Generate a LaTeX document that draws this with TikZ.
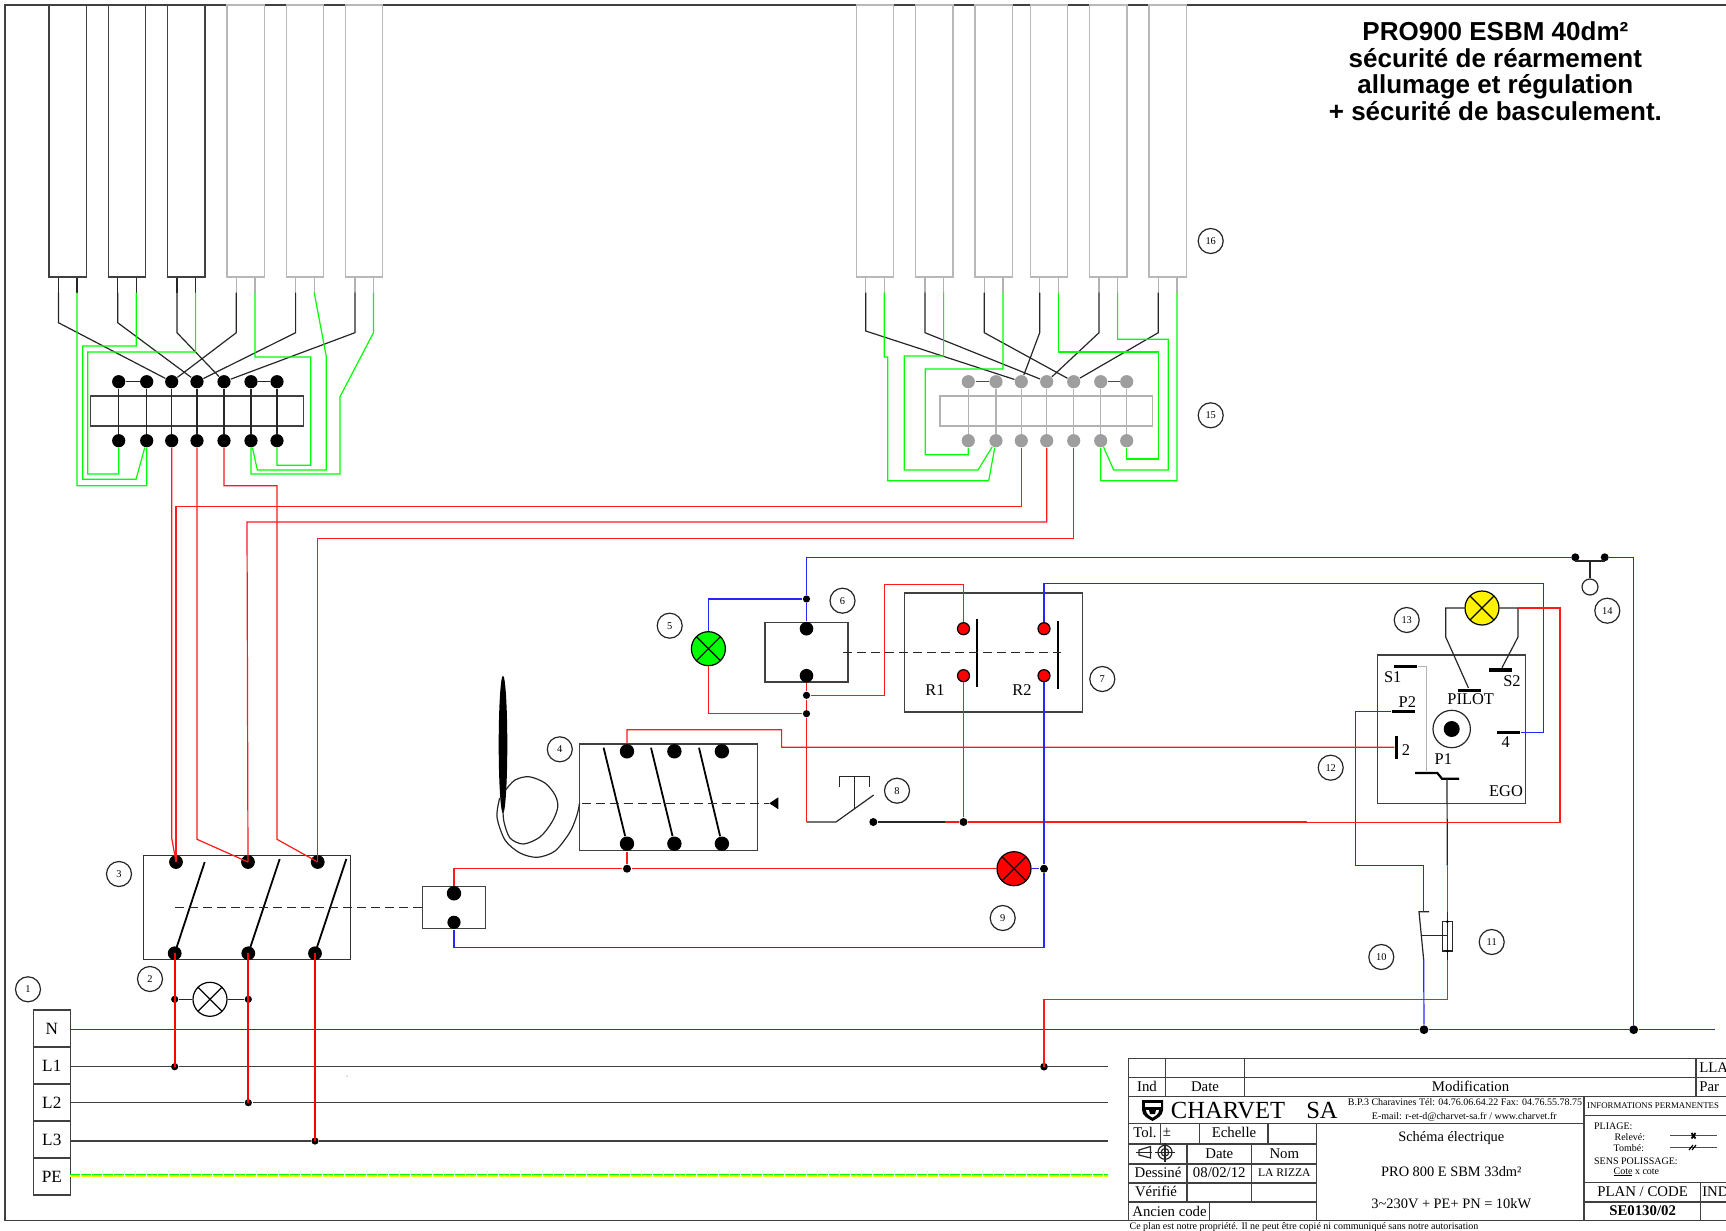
\documentclass[tikz,border=0pt]{standalone}
\usepackage{fontspec}
\setmainfont{Liberation Serif}
\newfontfamily\titlefont{Liberation Sans}
\usetikzlibrary{shapes,arrows,positioning,calc}

\begin{document}
\begin{tikzpicture}[x=0.5pt, y=-0.5pt, line width=0.6pt, node distance=29.65pt,
        wirek/.style={draw=black!85},
        wiregrey/.style={draw=black!30},
        wirered/.style={draw=red!90!white},
        wirethick/.style={draw=red, line width=1.1pt},
        wireblue/.style={draw=blue!85!white},
        wiregreen/.style={draw=green},
        boxline/.style={draw=black!75},
        heaterk/.style={rectangle, draw=black!75, minimum width=18.65pt, minimum height=136pt, inner sep=0pt},
        heatergrey/.style={heaterk, draw=black!28},
        term/.style={circle, fill=black, minimum size=6.6pt, inner sep=0pt},
        termgrey/.style={circle, fill=black!38, minimum size=6.6pt, inner sep=0pt},
        termred/.style={circle, draw=black, fill=red, minimum size=6pt, inner sep=0pt},
        joint/.style={circle, fill=black, minimum size=3.6pt, inner sep=0pt},
        lamp/.style={circle, draw=black, minimum size=17pt, inner sep=0pt, path picture={
            \draw[black] (path picture bounding box.north west) -- (path picture bounding box.south east)
                (path picture bounding box.north east) -- (path picture bounding box.south west);}},
        numtag/.style={circle, draw=black!85, minimum size=12.5pt, inner sep=0pt, font=\fontsize{5.2}{6}\selectfont},
        contactbar/.style={rectangle, fill=black, minimum width=11.5pt, minimum height=1.7pt, inner sep=0pt},
        striptext/.style={rectangle, draw=black!75, minimum width=18.5pt, minimum height=18.5pt, inner sep=0pt, font=\fontsize{8.6}{10}\selectfont},
        parttext/.style={inner sep=0pt, font=\fontsize{8.2}{9}\selectfont},
        celltext/.style={inner sep=0pt, font=\fontsize{7.4}{9}\selectfont},
        smalltext/.style={inner sep=0pt, font=\fontsize{5}{6}\selectfont},
        dashlink/.style={draw=black!85, dash pattern=on 4.5pt off 2.5pt}]
        \useasboundingbox (0,0) rectangle (1726,1231);
        \draw[boxline] (1726,5) -- (5,5) -- (5,1220.7) -- (1726,1220.7);

        \node[heaterk] (HeatA) at (67.7,141) {};
        \node[heaterk] (HeatB) [right of=HeatA] {};
        \node[heaterk] (HeatC) [right of=HeatB] {};
        \node[heatergrey] (HeatD) [right of=HeatC] {};
        \node[heatergrey] (HeatE) [right of=HeatD] {};
        \node[heatergrey] (HeatF) [right of=HeatE] {};
        \node[heatergrey] (HeatG) at (875,141) {};
        \node[heatergrey] (HeatH) [right of=HeatG] {};
        \node[heatergrey] (HeatI) [right of=HeatH] {};
        \node[heatergrey] (HeatJ) at (1049,141) {};
        \node[heatergrey] (HeatK) [right of=HeatJ] {};
        \node[heatergrey] (HeatL) [right of=HeatK] {};

        \draw[wirek] ([xshift=-4.65pt]HeatA.south) -- ++(0,15) coordinate (LegA1);
        \draw[wirek] ([xshift=4.65pt]HeatA.south) -- ++(0,15) coordinate (LegA2);
        \draw[wirek] ([xshift=-4.65pt]HeatB.south) -- ++(0,15) coordinate (LegB1);
        \draw[wirek] ([xshift=4.65pt]HeatB.south) -- ++(0,15) coordinate (LegB2);
        \draw[wirek] ([xshift=-4.65pt]HeatC.south) -- ++(0,15) coordinate (LegC1);
        \draw[wirek] ([xshift=4.65pt]HeatC.south) -- ++(0,15) coordinate (LegC2);
        \draw[wiregrey] ([xshift=-4.65pt]HeatD.south) -- ++(0,15) coordinate (LegD1);
        \draw[wiregrey] ([xshift=4.65pt]HeatD.south) -- ++(0,15) coordinate (LegD2);
        \draw[wiregrey] ([xshift=-4.65pt]HeatE.south) -- ++(0,15) coordinate (LegE1);
        \draw[wiregrey] ([xshift=4.65pt]HeatE.south) -- ++(0,15) coordinate (LegE2);
        \draw[wiregrey] ([xshift=-4.65pt]HeatF.south) -- ++(0,15) coordinate (LegF1);
        \draw[wiregrey] ([xshift=4.65pt]HeatF.south) -- ++(0,15) coordinate (LegF2);
        \draw[wiregrey] ([xshift=-4.65pt]HeatG.south) -- ++(0,15) coordinate (LegG1);
        \draw[wiregrey] ([xshift=4.65pt]HeatG.south) -- ++(0,15) coordinate (LegG2);
        \draw[wiregrey] ([xshift=-4.65pt]HeatH.south) -- ++(0,15) coordinate (LegH1);
        \draw[wiregrey] ([xshift=4.65pt]HeatH.south) -- ++(0,15) coordinate (LegH2);
        \draw[wiregrey] ([xshift=-4.65pt]HeatI.south) -- ++(0,15) coordinate (LegI1);
        \draw[wiregrey] ([xshift=4.65pt]HeatI.south) -- ++(0,15) coordinate (LegI2);
        \draw[wiregrey] ([xshift=-4.65pt]HeatJ.south) -- ++(0,15) coordinate (LegJ1);
        \draw[wiregrey] ([xshift=4.65pt]HeatJ.south) -- ++(0,15) coordinate (LegJ2);
        \draw[wiregrey] ([xshift=-4.65pt]HeatK.south) -- ++(0,15) coordinate (LegK1);
        \draw[wiregrey] ([xshift=4.65pt]HeatK.south) -- ++(0,15) coordinate (LegK2);
        \draw[wiregrey] ([xshift=-4.65pt]HeatL.south) -- ++(0,15) coordinate (LegL1);
        \draw[wiregrey] ([xshift=4.65pt]HeatL.south) -- ++(0,15) coordinate (LegL2);

        \node[rectangle, draw=black!75, minimum width=106.3pt, minimum height=15pt, inner sep=0pt] (BarLeft) at (197,411) {};
        \node[term] (TopA) at (118.7,381.7) {};
        \node[term] (TopB) at (146.7,381.7) {};
        \node[term] (TopC) at (171.7,381.7) {};
        \node[term] (TopD) at (197,381.7) {};
        \node[term] (TopE) at (224,381.7) {};
        \node[term] (TopF) at (251,381.7) {};
        \node[term] (TopG) at (277,381.7) {};
        \node[term] (LowA) at (118.7,440.7) {};
        \node[term] (LowB) at (146.7,440.7) {};
        \node[term] (LowC) at (171.7,440.7) {};
        \node[term] (LowD) at (197,440.7) {};
        \node[term] (LowE) at (224,440.7) {};
        \node[term] (LowF) at (251,440.7) {};
        \node[term] (LowG) at (277,440.7) {};
        \draw[wirek] (TopA) -- (TopB);
        \draw[wirek] (TopF) -- (TopG);
        \draw[wirek] (TopA) -- (LowA);
        \draw[wirek] (TopB) -- (LowB);
        \draw[wirek] (TopC) -- (LowC);
        \draw[wirek] (TopD) -- (LowD);
        \draw[wirek] (TopE) -- (LowE);
        \draw[wirek] (TopF) -- (LowF);
        \draw[wirek] (TopG) -- (LowG);

        \draw[wirek] (LegA1) -- (58.4,322.7) -- (TopC);
        \draw[wirek] (LegB1) -- (117.7,322.7) -- (TopD);
        \draw[wirek] (LegC1) -- (177,332.7) -- (TopE);
        \draw[wirek] (LegD1) -- (236.3,332.7) -- (TopC);
        \draw[wirek] (LegE1) -- (295.6,332.7) -- (TopD);
        \draw[wirek] (LegF1) -- (354.9,332.7) -- (TopE);
        \draw[wiregreen] (LegA2) -- (77,485.7) -- (146.7,485.7) -- (LowB);
        \draw[wiregreen] (LegB2) -- (136.3,346) -- (82.7,346) -- (82.7,479.3) -- (136,479.3) -- (LowB);
        \draw[wiregreen] (LegC2) -- (195.6,352) -- (87.7,352) -- (87.7,474) -- (118.7,474) -- (LowA);
        \draw[wiregreen] (LegD2) -- (254.9,357) -- (310.7,357) -- (310.7,465.3) -- (277,465.3) -- (LowG);
        \draw[wiregreen] (LegE2) -- (326.3,356.7) -- (326.3,470) -- (257.3,470) -- (LowF);
        \draw[wiregreen] (LegF2) -- (373.5,332.7) -- (340,396.7) -- (340,474) -- (251,474) -- (LowF);

        \node[rectangle, draw=black!30, minimum width=106.3pt, minimum height=15pt, inner sep=0pt] (BarRight) at (1046.3,411) {};
        \node[termgrey] (TopH) at (968.3,381.7) {};
        \node[termgrey] (TopI) at (996,381.7) {};
        \node[termgrey] (TopJ) at (1021.3,381.7) {};
        \node[termgrey] (TopK) at (1046.7,381.7) {};
        \node[termgrey] (TopL) at (1073.7,381.7) {};
        \node[termgrey] (TopM) at (1100.7,381.7) {};
        \node[termgrey] (TopN) at (1126.7,381.7) {};
        \node[termgrey] (LowH) at (968.3,440.7) {};
        \node[termgrey] (LowI) at (996,440.7) {};
        \node[termgrey] (LowJ) at (1021.3,440.7) {};
        \node[termgrey] (LowK) at (1046.7,440.7) {};
        \node[termgrey] (LowL) at (1073.7,440.7) {};
        \node[termgrey] (LowM) at (1100.7,440.7) {};
        \node[termgrey] (LowN) at (1126.7,440.7) {};
        \draw[draw=black!70] (TopH) -- (TopI);
        \draw[draw=black!70] (TopM) -- (TopN);
        \draw[wiregrey] (TopH) -- (LowH);
        \draw[wiregrey] (TopI) -- (LowI);
        \draw[wiregrey] (TopJ) -- (LowJ);
        \draw[wiregrey] (TopK) -- (LowK);
        \draw[wiregrey] (TopL) -- (LowL);
        \draw[wiregrey] (TopM) -- (LowM);
        \draw[wiregrey] (TopN) -- (LowN);

        \draw[wirek] (LegG1) -- (865.7,331) -- (TopJ);
        \draw[wirek] (LegH1) -- (925,332.7) -- (TopK);
        \draw[wirek] (LegI1) -- (984.3,332.7) -- (TopL);
        \draw[wirek] (LegJ1) -- (1039.7,332.7) -- (TopJ);
        \draw[wirek] (LegK1) -- (1099,332.7) -- (TopK);
        \draw[wirek] (LegL1) -- (1158.3,332.7) -- (TopL);
        \draw[wiregreen] (LegG2) -- (884.3,357) -- (887.7,357) -- (887.7,480.7) -- (988.7,480.7) -- (LowI);
        \draw[wiregreen] (LegH2) -- (943.6,356) -- (904.3,356) -- (904.3,470) -- (978,470) -- (LowI);
        \draw[wiregreen] (LegI2) -- (1002.9,369) -- (925.3,369) -- (925.3,454.7) -- (968.3,454.7) -- (LowH);
        \draw[wiregreen] (LegJ2) -- (1058.3,352) -- (1158.7,352) -- (1158.7,459) -- (1126.7,459) -- (LowN);
        \draw[wiregreen] (LegK2) -- (1117.6,339.3) -- (1168.3,339.3) -- (1168.3,470) -- (1113.7,470) -- (LowM);
        \draw[wiregreen] (LegL2) -- (1176.9,480.7) -- (1100.7,480.7) -- (LowM);

        \node[rectangle, draw=black!80, minimum width=103.5pt, minimum height=52pt, inner sep=0pt] (Breaker) at (246.8,907.3) {};
        \node[term, minimum size=6.9pt] (BreakA) at (176,862) {};
        \node[term, minimum size=6.9pt] (BreakB) at (248,862) {};
        \node[term, minimum size=6.9pt] (BreakC) at (317.7,862) {};
        \node[term, minimum size=6.9pt] (BreakD) at (174.7,953.3) {};
        \node[term, minimum size=6.9pt] (BreakE) at (248.3,953.3) {};
        \node[term, minimum size=6.9pt] (BreakF) at (315,953.3) {};
        \draw[line width=0.9pt] (BreakD.center) -- (204.7,862);
        \draw[line width=0.9pt] (BreakE.center) -- (279.7,859);
        \draw[line width=0.9pt] (BreakF.center) -- (346.3,859);
        \node[rectangle, draw=black!75, minimum width=31.3pt, minimum height=21pt, inner sep=0pt] (Relay) at (454,907.7) {};
        \node[term, minimum size=7.2pt] (RelayA) at (454,893.3) {};
        \node[term] (RelayB) at (454,922.3) {};
        \draw[dashlink] (175.3,907.7) -- (Relay.west);

        \draw[wirered] (LowC) -- (171.7,838) -- (BreakA.center);
        \draw[wirered] (LowD) -- (197,839.3) -- (BreakB.center);
        \draw[wirered] (LowE) -- (224,485.7) -- (277,485.7) -- (277,839.3) -- (BreakC.center);
        \draw[wirered] (LowJ) -- (1021.3,506.3) -- (176,506.3) -- (BreakA.center);
        \draw[wirered] (LowK) -- (1046.7,522) -- (247,522) -- (BreakB.center);
        \draw[wirered] (LowL) -- (1073.7,538.3) -- (317.7,538.3) -- (BreakC.center);

        \node[striptext] (StripN) at (51.8,1028.5) {N};
        \node[striptext] (StripL1) [below of=StripN, node distance=18.5pt] {L1};
        \node[striptext] (StripL2) [below of=StripL1, node distance=18.5pt] {L2};
        \node[striptext] (StripL3) [below of=StripL2, node distance=18.5pt] {L3};
        \node[striptext] (StripPE) [below of=StripL3, node distance=18.5pt] {PE};
        \node[joint] (JointLa) at (174.7,1066.7) {};
        \node[joint] (JointLb) at (248.3,1102.7) {};
        \node[joint] (JointLc) at (315,1141) {};
        \node[joint, minimum size=3.8pt] (JointLd) at (1044,1066.7) {};
        \node[joint, minimum size=4.4pt] (JointNa) at (1424,1029.7) {};
        \node[joint, minimum size=4.4pt] (JointNb) at (1633.7,1029.7) {};
        \node[joint] (JointSa) at (174.7,999.3) {};
        \node[joint] (JointSb) at (248.3,999.3) {};
        \node[lamp] (LampWhite) at (210,999.3) {};
        \draw[wirek] (JointSa) -- (LampWhite);
        \draw[wirek] (LampWhite) -- (JointSb);
        \draw[wireblue] (StripN.east |- JointNa) -- (JointNa) -- (JointNb) -- (1715.3,1029.7);
        \draw[boxline] (StripL1.east |- JointLa) -- (JointLa) -- (JointLd) -- (1108,1066.7);
        \draw[boxline] (StripL2.east |- JointLb) -- (JointLb) -- (1108,1102.7);
        \draw[boxline] (StripL3.east |- JointLc) -- (JointLc) -- (1108,1141);
        \draw[draw=yellow, dash pattern=on 4.6pt off 0.9pt] (70.3,1176) -- (1108,1176);
        \draw[draw=green, dash pattern=on 4.6pt off 0.9pt] (70.3,1174.8) -- (1108,1174.8);
        \draw[wirethick] (BreakD.center) -- (JointLa.center);
        \draw[wirethick] (BreakE.center) -- (JointLb.center);
        \draw[wirethick] (BreakF.center) -- (JointLc.center);
        \fill[red] (347,1076) circle (0.5);

        \node[rectangle, draw=black!75, minimum width=89pt, minimum height=53.3pt, inner sep=0pt] (Thermo) at (668.5,797.3) {};
        \node[term, minimum size=7.2pt] (ThermoA) at (627,751.3) {};
        \node[term, minimum size=7.2pt] (ThermoB) at (674.4,751.3) {};
        \node[term, minimum size=7.2pt] (ThermoC) at (721.9,751.3) {};
        \node[term, minimum size=7.2pt] (ThermoD) at (627,843.7) {};
        \node[term, minimum size=7.2pt] (ThermoE) at (674.4,843.7) {};
        \node[term, minimum size=7.2pt] (ThermoF) at (721.9,843.7) {};
        \draw[line width=0.9pt] (603.6,747.7) -- (ThermoD);
        \draw[line width=0.9pt] (651,747.7) -- (ThermoE);
        \draw[line width=0.9pt] (699,747.7) -- (ThermoF);
        \draw[dashlink] (581.5,803.3) -- (768.5,803.3);
        \fill (769.3,803.3) -- (778.4,797.3) -- (778.4,809.3) -- cycle;
        \node[ellipse, fill=black, minimum width=4.3pt, minimum height=68.8pt, inner sep=0pt] (Bulb) at (503,744.5) {};
        \draw[draw=black!85] plot[smooth] coordinates {(505.6,790) (515,780) (529,776.7) (545,783) (555,795) (557.8,807) (552,822) (540,837) (523.4,844) (510,838) (504,822) (503,810)};
        \draw[draw=black!85] plot[smooth] coordinates {(499.7,798) (497,817) (505,840) (520,853) (537.2,857.3) (555,851) (570,832) (577,815) (579.5,803.3)};

        \node[rectangle, draw=black!75, minimum width=41.5pt, minimum height=29.7pt, inner sep=0pt] (Pilot) at (806.5,652.3) {};
        \node[term, minimum size=6.8pt] (PilotA) at (806.5,628.7) {};
        \node[term, minimum size=6.8pt] (PilotB) at (806.5,675.7) {};
        \node[rectangle, draw=black!75, minimum width=89pt, minimum height=59.5pt, inner sep=0pt] (RelayBox) at (993.2,652.5) {};
        \node[termred] (ResA) at (963.5,628.7) {};
        \node[termred] (ResB) at (963.5,675.7) {};
        \node[termred] (ResC) at (1044,628.7) {};
        \node[termred] (ResD) at (1044,675.7) {};
        \draw[line width=1pt] (977.3,619.3) -- (977.3,686.7);
        \draw[line width=1pt] (1058,621) -- (1058,688.7);
        \draw[dashlink] (842.9,652.3) -- (1061,652.3);
        \node[parttext] (LabelRa) at (935,690) {R1};
        \node[parttext] (LabelRb) at (1022,690) {R2};

        \node[lamp, fill=green] (LampGreen) at (708.4,648.7) {};
        \node[lamp, fill=red] (LampRed) at (1014,868.7) {};
        \node[lamp, fill=yellow] (LampYellow) at (1482,608) {};
        \node[joint] (JointA) at (806.5,599) {};
        \node[joint] (JointB) at (806.5,695.3) {};
        \node[joint] (JointC) at (806.5,713.7) {};
        \node[joint, minimum size=4pt] (JointD) at (963.5,822) {};
        \node[joint, minimum size=4pt] (JointE) at (627,868.7) {};
        \node[joint, minimum size=4pt] (JointF) at (1044,868.7) {};
        \node[joint, minimum size=4pt] (StopA) at (1575.3,557.3) {};
        \node[joint, minimum size=4pt] (StopB) at (1604.7,557.3) {};
        \node[joint, minimum size=4pt] (PushDot) at (873.3,822) {};
        \node[circle, draw=black!85, minimum size=8pt, inner sep=0pt] (StopRing) at (1590,587) {};
        \coordinate (StopTee) at (1590,561);
        \coordinate (PushStart) at (806.5,822);
        \coordinate (PushEnd) at (944.5,822);
        \draw[wirek] (StopA) -- (1575.3,561) -- (1604.7,561) -- (StopB);
        \draw[wirek] (StopTee) -- (StopRing);
        \draw[wireblue] (JointA) -- (806.5,557.3) -- (StopA);
        \draw[wireblue] (StopB) -- (1633.7,557.3) -- (JointNb);
        \draw[wireblue] (JointA) -- (PilotA);
        \draw[wireblue] (JointA) -- (708.4,599) -- (LampGreen);
        \draw[wirered] (LampGreen) -- (708.4,713.7) -- (JointC);
        \draw[wirered] (PilotB) -- (JointB) -- (JointC) -- (PushStart);
        \draw[wirered] (JointB) -- (884.8,695.3) -- (884.8,584.3) -- (963.5,584.3) -- (ResA);
        \draw[wirered] (ResB) -- (JointD);
        \draw[wirek] (PushStart) -- (836,822) -- (873.7,795);
        \draw[wirek] (854.7,776.7) -- (854.7,808.3);
        \draw[wirek] (839.7,786.7) -- (839.7,776.7) -- (869.8,776.7) -- (869.8,786.7);
        \draw[wirek] (PushDot) -- (PushEnd);
        \draw[wirered] (PushEnd) -- (JointD);

        \node[rectangle, draw=black!75, minimum width=74.2pt, minimum height=74.2pt, inner sep=0pt] (Ego) at (1451.5,729.2) {};
        \node[contactbar] (BarSa) at (1405.8,666.3) {};
        \node[contactbar] (BarPb) at (1403.5,711.3) {};
        \node[contactbar] (BarPilot) at (1469.5,690.3) {};
        \node[contactbar] (BarSb) at (1500.8,670) {};
        \node[contactbar] (BarFour) at (1508.8,732.3) {};
        \node[contactbar, minimum width=1.7pt, minimum height=11.5pt] (BarTwo) at (1396.7,747.2) {};
        \node[circle, draw=black!85, minimum size=18.7pt, inner sep=0pt] (Knob) at (1451.7,729) {};
        \node[circle, fill=black, minimum size=8pt, inner sep=0pt] (KnobDot) at (1451.7,729) {};
        \node[parttext] (LabelSa) at (1392.7,677.3) {S1};
        \node[parttext] (LabelPb) at (1407.3,702.3) {P2};
        \node[parttext] (LabelTwo) at (1406,750) {2};
        \node[parttext] (LabelPa) at (1443.3,759.3) {P1};
        \node[parttext] (LabelFour) at (1505.7,742.3) {4};
        \node[parttext] (LabelEgo) at (1506,790.7) {EGO};
        \node[parttext] (LabelPilot) at (1470.7,699.3) {PILOT};
        \node[parttext] (LabelSb) at (1512,680.7) {S2};
        \coordinate (PaTail) at (1447,778.7);
        \coordinate (CapTop) at (1447.3,865.7);
        \coordinate (FuseTop) at (1447.3,912);
        \coordinate (FuseLow) at (1447.3,960);
        \coordinate (LimitTop) at (1423.7,911.7);
        \coordinate (LimitLow) at (1423.7,960);
        \coordinate (LampTap) at (1518,608);
        \node[rectangle, draw=black!85, minimum width=4.8pt, minimum height=14.6pt, inner sep=0pt] (Fuse) at (1447.5,936.3) {};
        \draw[line width=1.1pt] (1415,773) -- (1437.3,773) -- (1442,778.7) -- (1459,778.7);
        \draw[wiregrey] (BarSa) -- (1426.7,666.3) -- (1426.7,771.3);
        \draw[wirek] (LampYellow) -- (1445.7,608) -- (1445.7,637) -- (BarPilot);
        \draw[wirek] (LampYellow) -- (LampTap) -- (1518,637) -- (BarSb);
        \draw[wirek] (PaTail) -- (CapTop);
        \draw[wirered] (CapTop) -- (FuseTop);
        \draw[wirek] (FuseTop) -- (FuseLow);
        \fill (1447.3,921.7) circle (1.5);
        \fill (1447.3,951) circle (1.5);
        \draw[wirek] (1429,911.7) -- (1419,911.7) -- (LimitLow);
        \draw[wirek] (1421.3,935.7) -- (1447.3,935.7);
        \draw[wirered] (FuseLow) -- (1447.3,999.7) -- (1044,999.7) -- (JointLd.center);
        \draw[wireblue] (BarPb) -- (1355.7,711.3) -- (1355.7,865.7) -- (1423.7,865.7) -- (LimitTop);
        \draw[wireblue] (LimitLow) -- (JointNa);
        \draw[wireblue] (BarFour) -- (1543.3,732.3) -- (1543.3,583.7) -- (1044,583.7) -- (ResC);
        \draw[wirered] (JointD) -- (1306.7,822) -- (1306.7,822.7) -- (1560,822.7) -- (1560,608) -- (LampTap);
        \draw[wirered] (ThermoA) -- (627,729.7) -- (781.6,729.7) -- (781.6,747.3) -- (BarTwo);
        \draw[wirered] (ThermoD) -- (JointE);
        \draw[wirered] (JointE) -- (454,868.7) -- (RelayA);
        \draw[wirered] (JointE) -- (LampRed);
        \draw[wireblue] (LampRed) -- (JointF);
        \draw[wireblue] (ResD) -- (JointF) -- (1044,947.7) -- (454,947.7) -- (RelayB);

        \node[numtag] (TagA) at (28,989.3) {1};
        \node[numtag] (TagB) at (150,979) {2};
        \node[numtag] (TagC) at (119,874) {3};
        \node[numtag] (TagD) at (559.8,749.3) {4};
        \node[numtag] (TagE) at (669.7,625.7) {5};
        \node[numtag] (TagF) at (842.5,600.7) {6};
        \node[numtag] (TagG) at (1102.3,679) {7};
        \node[numtag] (TagH) at (897,790.7) {8};
        \node[numtag] (TagI) at (1002.7,918) {9};
        \node[numtag] (TagJ) at (1381.3,957) {10};
        \node[numtag] (TagK) at (1491.7,942) {11};
        \node[numtag] (TagL) at (1330.7,767.7) {12};
        \node[numtag] (TagM) at (1406.7,620) {13};
        \node[numtag] (TagN) at (1607.3,610.7) {14};
        \node[numtag] (TagO) at (1210.7,415.3) {15};
        \node[numtag] (TagP) at (1210.7,241) {16};

        \node[align=center, inner sep=0pt, font=\titlefont\bfseries\fontsize{13}{13.25}\selectfont] (Title) at (1495.4,71.4) {PRO900 ESBM 40dm²\\sécurité de réarmement\\allumage et régulation\\+ sécurité de basculement.};

        \draw[boxline] (1128.5,1220.7) -- (1128.5,1058.3) -- (1726,1058.3);
        \draw[boxline] (1128.5,1077.3) -- (1726,1077.3);
        \draw[boxline] (1128.5,1096.7) -- (1726,1096.7);
        \draw[boxline] (1128.5,1123.3) -- (1584,1123.3);
        \draw[boxline] (1128.5,1144) -- (1316.8,1144);
        \draw[boxline] (1128.5,1164) -- (1316.8,1164);
        \draw[boxline] (1128.5,1183) -- (1316.8,1183);
        \draw[boxline] (1128.5,1202) -- (1316.8,1202);
        \draw[boxline] (1584,1115.3) -- (1726,1115.3);
        \draw[boxline] (1584,1182.7) -- (1726,1182.7);
        \draw[boxline] (1584,1202) -- (1726,1202);
        \draw[boxline] (1165.2,1058.3) -- (1165.2,1096.7);
        \draw[boxline] (1244.5,1058.3) -- (1244.5,1096.7);
        \draw[boxline] (1696,1058.3) -- (1696,1096.7);
        \draw[boxline] (1584,1096.7) -- (1584,1220.7);
        \draw[boxline] (1700.6,1182.7) -- (1700.6,1220.7);
        \draw[boxline] (1316.8,1123.3) -- (1316.8,1220.7);
        \draw[boxline] (1160.6,1123.3) -- (1160.6,1144);
        \draw[boxline] (1199.2,1123.3) -- (1199.2,1144);
        \draw[boxline] (1268,1123.3) -- (1268,1144);
        \draw[boxline] (1186.9,1144) -- (1186.9,1202);
        \draw[boxline] (1251.8,1144) -- (1251.8,1202);
        \draw[boxline] (1209.7,1202) -- (1209.7,1220.7);

        \node[celltext] (CellInd) at (1147,1086.7) {Ind};
        \node[celltext] (CellDate) at (1205,1086.7) {Date};
        \node[celltext] (CellMod) at (1470.6,1086.7) {Modification};
        \node[celltext, anchor=west] (CellLla) at (1698.7,1067.7) {LLA};
        \node[celltext, anchor=west] (CellPar) at (1698.7,1086.7) {Par};
        \node[inner sep=0pt, font=\fontsize{12.3}{14}\selectfont] (CellName) at (1228,1110.5) {CHARVET};
        \node[inner sep=0pt, font=\fontsize{12.3}{14}\selectfont] (CellSa) at (1322,1110.5) {SA};
        \node[smalltext] (CellAddr) at (1465,1102.3) {B.P.3 Charavines Tél: 04.76.06.64.22 Fax: 04.76.55.78.75};
        \node[smalltext] (CellMail) at (1464.3,1116.5) {E-mail: r-et-d@charvet-sa.fr / www.charvet.fr};
        \node[celltext] (CellTol) at (1145,1132.5) {Tol.};
        \node[celltext] (CellPm) at (1167,1132.5) {±};
        \node[celltext] (CellEch) at (1234,1132.5) {Echelle};
        \node[celltext] (CellDateb) at (1219.3,1154) {Date};
        \node[celltext] (CellNom) at (1284.3,1154) {Nom};
        \node[celltext] (CellDess) at (1158,1172.5) {Dessiné};
        \node[celltext] (CellDay) at (1219.3,1172.5) {08/02/12};
        \node[celltext, font=\fontsize{5.8}{7}\selectfont] (CellWho) at (1284.3,1172.5) {LA RIZZA};
        \node[celltext] (CellVer) at (1156,1191.5) {Vérifié};
        \node[celltext] (CellOld) at (1169.5,1211) {Ancien code};
        \node[celltext, font=\fontsize{7.2}{9}\selectfont] (CellSchema) at (1451.3,1138.3) {Schéma électrique};
        \node[celltext, font=\fontsize{7.2}{9}\selectfont] (CellModel) at (1451.3,1171.7) {PRO 800 E SBM 33dm²};
        \node[celltext, font=\fontsize{7.2}{9}\selectfont] (CellPower) at (1451.3,1203.3) {3\textasciitilde230V + PE+ PN = 10kW};
        \node[smalltext, anchor=west, font=\fontsize{4.4}{5}\selectfont] (CellInfo) at (1586.6,1106) {INFORMATIONS PERMANENTES};
        \node[smalltext, anchor=west] (CellPliage) at (1593.5,1126.7) {PLIAGE:};
        \node[smalltext, anchor=west] (CellRel) at (1614,1136.7) {Relevé:};
        \node[smalltext, anchor=west] (CellTom) at (1613,1147.7) {Tombé:};
        \node[smalltext, anchor=west] (CellSens) at (1593.5,1161.3) {SENS POLISSAGE:};
        \node[smalltext, anchor=west] (CellCote) at (1613,1171.5) {\rlap{\raisebox{-0.7pt}{\rule{9.4pt}{0.25pt}}}Cote x cote};
        \node[celltext] (CellPlan) at (1642.6,1191.5) {PLAN / CODE};
        \node[celltext, anchor=west] (CellIndb) at (1701.7,1191.5) {IND};
        \node[celltext, font=\bfseries\fontsize{7.4}{9}\selectfont] (CellCode) at (1642.6,1211) {SE0130/02};
        \node[smalltext] (CellFoot) at (1304,1227) {Ce plan est notre propriété. Il ne peut être copié ni communiqué sans notre autorisation};

        \draw[draw=black!70] (1670,1135.7) -- (1716.7,1135.7);
        \draw[draw=black!70] (1670,1147.7) -- (1716.7,1147.7);
        \draw[line width=0.9pt] (1691.5,1133) -- (1695.5,1138.5) (1695.5,1133) -- (1691.5,1138.5);
        \draw[line width=0.6pt] (1689,1150) -- (1693,1145) (1692,1150) -- (1696,1145);
        \fill (1142,1100) -- (1163,1100) -- (1163,1110) .. controls (1163,1116) and (1156,1119) .. (1152.5,1121) .. controls (1149,1119) and (1142,1116) .. (1142,1110) -- cycle;
        \fill[white] (1144.5,1102.5) -- (1160.5,1102.5) -- (1160.5,1107) -- (1144.5,1107) -- cycle;
        \fill[white] (1146,1110) -- (1159,1110) .. controls (1159,1114) and (1155,1116) .. (1152.5,1117.5) .. controls (1150,1116) and (1146,1114) .. (1146,1110) -- cycle;
        \fill (1149,1110) -- (1156,1110) -- (1155,1114) -- (1150,1114) -- cycle;
        \draw[draw=black!85] (1139,1150) -- (1150.5,1146.5) -- (1150.5,1158) -- (1139,1155) -- cycle;
        \draw[draw=black!85] (1136,1152.3) -- (1152,1152.3);
        \draw[draw=black!85] (1165,1152.3) circle (7);
        \draw[draw=black!85] (1165,1152.3) circle (3.8);
        \draw[draw=black!85] (1155,1152.3) -- (1175,1152.3) (1165,1142.5) -- (1165,1162);
\end{tikzpicture}
\end{document}
